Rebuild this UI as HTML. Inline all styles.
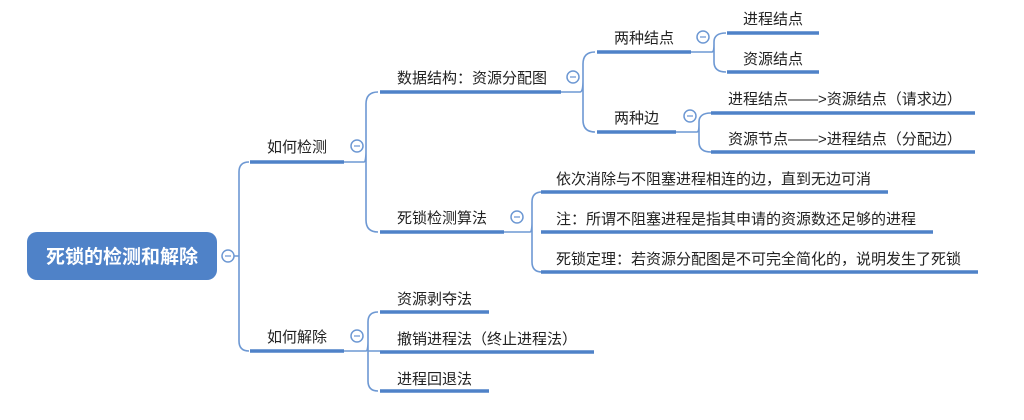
<!DOCTYPE html>
<html><head><meta charset="utf-8"><style>
body{margin:0;background:#fff;}
svg text{font-family:"Liberation Sans","Noto Sans CJK SC",sans-serif;font-size:15px;fill:#222;}
</style></head><body>
<svg width="1024" height="415" viewBox="0 0 1024 415" xmlns="http://www.w3.org/2000/svg">
<g fill="none" stroke="#6d98d3" stroke-width="1.6">
<path d="M234 256 H239 M239 172 V341 Q239 351 249 351 M239 172 Q239 162 249 162"/>
<path d="M344 162 H364 Q366 162 366 150 V104 Q366 92 378 92 M366 150 V220 Q366 232 378 232"/>
<path d="M561 92 H580 Q583 92 583 80 V64 Q583 52 595 52 M583 80 V120 Q583 132 595 132"/>
<path d="M691 52 H712 Q714 52 714 44 V42 Q714 33 726 33 M714 44 V62 Q714 72 726 72"/>
<path d="M676 132 H697 Q699 132 699 124 V122 Q699 113 711 113 M699 124 V142 Q699 152 711 152"/>
<path d="M504 232 H530 Q532 232 532 222 V202 Q532 192 542 192 M532 222 V262 Q532 272 542 272"/>
<path d="M344 351 H366 Q368 351 368 341 V322 Q368 312 378 312 M368 341 V381 Q368 391 378 391 M368 351 H380"/>
</g>
<g stroke="#4f82c8" stroke-width="3.5" fill="none">
<path d="M250 162 H344 M250 351 H344"/>
<path d="M380 92 H561 M380 232 H504"/>
<path d="M597 52 H691 M597 132 H676"/>
<path d="M727 33 H819 M727 72 H819"/>
<path d="M711 113 H975 M711 152 H975"/>
<path d="M541 192 H888 M541 232 H933 M541 272 H978"/>
<path d="M380 312 H489 M380 352 H594 M380 391 H489"/>
</g>
<rect x="27" y="232" width="190" height="48" rx="10" fill="#4f82c8"/>
<text x="122" y="263" text-anchor="middle" style="font-size:19px;font-weight:bold;fill:#fff">死锁的检测和解除</text>
<g fill="#fff" stroke="#6d98d3" stroke-width="1.5">
<circle cx="228" cy="256" r="6"/><circle cx="357" cy="146" r="6"/><circle cx="357" cy="336" r="6"/>
<circle cx="573" cy="77" r="6"/><circle cx="703" cy="37" r="6"/><circle cx="690" cy="116" r="6"/>
<circle cx="517" cy="217" r="6"/>
</g>
<g stroke="#6d98d3" stroke-width="1.3">
<path d="M225 256h6M354 146h6M354 336h6M570 77h6M700 37h6M687 116h6M514 217h6"/>
</g>
<text x="267" y="152">如何检测</text>
<text x="267" y="342">如何解除</text>
<text x="397" y="83">数据结构：资源分配图</text>
<text x="397" y="223">死锁检测算法</text>
<text x="614" y="43">两种结点</text>
<text x="614" y="123">两种边</text>
<text x="743" y="24">进程结点</text>
<text x="743" y="64">资源结点</text>
<text x="728" y="104">进程结点——&gt;资源结点（请求边）</text>
<text x="728" y="144">资源节点——&gt;进程结点（分配边）</text>
<text x="556" y="184">依次消除与不阻塞进程相连的边，直到无边可消</text>
<text x="556" y="224">注：所谓不阻塞进程是指其申请的资源数还足够的进程</text>
<text x="556" y="264">死锁定理：若资源分配图是不可完全简化的，说明发生了死锁</text>
<text x="397" y="304">资源剥夺法</text>
<text x="397" y="344">撤销进程法（终止进程法）</text>
<text x="397" y="384">进程回退法</text>
</svg>
</body></html>
